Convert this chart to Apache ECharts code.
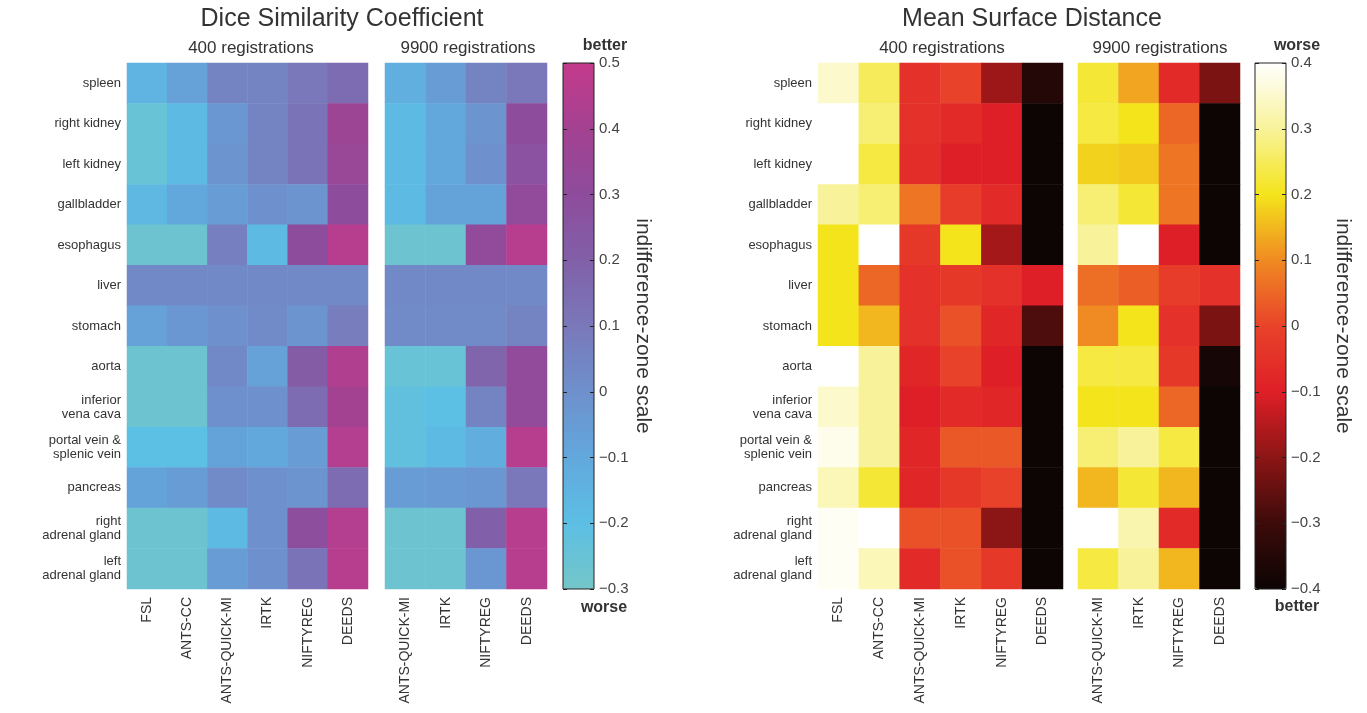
<!DOCTYPE html>
<html><head><meta charset="utf-8">
<script src="https://cdn.jsdelivr.net/npm/echarts@6/dist/echarts.min.js"></script>
<style>html,body{margin:0;padding:0;background:#fff}#c{width:1367px;height:713px}</style>
</head><body><div id="c"></div>
<script>
const rows = ['spleen','right kidney','left kidney','gallbladder','esophagus','liver','stomach','aorta','inferior\nvena cava','portal vein &\nsplenic vein','pancreas','right\nadrenal gland','left\nadrenal gland'];
const methods400 = ['FSL','ANTS-CC','ANTS-QUICK-MI','IRTK','NIFTYREG','DEEDS'];
const methods9900 = ['ANTS-QUICK-MI','IRTK','NIFTYREG','DEEDS'];

// Dice similarity coefficient, indifference-zone scale, rows x methods
const dsc400 = [
  [-0.15,-0.07, 0.05, 0.05, 0.10, 0.15],
  [-0.25,-0.18,-0.03, 0.05, 0.12, 0.37],
  [-0.25,-0.18,-0.02, 0.05, 0.12, 0.35],
  [-0.17,-0.10,-0.05, 0.00,-0.02, 0.30],
  [-0.27,-0.27, 0.07,-0.18, 0.30, 0.46],
  [ 0.03, 0.03, 0.03, 0.03, 0.03, 0.03],
  [-0.07,-0.03, 0.00, 0.02,-0.02, 0.08],
  [-0.27,-0.27, 0.03,-0.07, 0.22, 0.44],
  [-0.27,-0.27, 0.00, 0.00, 0.15, 0.40],
  [-0.20,-0.20,-0.08,-0.10,-0.05, 0.45],
  [-0.08,-0.05, 0.02, 0.00,-0.02, 0.15],
  [-0.27,-0.27,-0.18, 0.00, 0.29, 0.45],
  [-0.27,-0.27,-0.05, 0.00, 0.12, 0.46]
];
const dsc9900 = [
  [-0.13,-0.05, 0.05, 0.10],
  [-0.18,-0.10,-0.02, 0.30],
  [-0.18,-0.10, 0.00, 0.27],
  [-0.18,-0.08,-0.08, 0.32],
  [-0.27,-0.27, 0.32, 0.46],
  [ 0.03, 0.03, 0.03, 0.03],
  [ 0.02, 0.02, 0.02, 0.05],
  [-0.25,-0.25, 0.18, 0.32],
  [-0.22,-0.20, 0.05, 0.32],
  [-0.22,-0.18,-0.12, 0.46],
  [-0.05,-0.04,-0.03, 0.10],
  [-0.27,-0.27, 0.20, 0.46],
  [-0.27,-0.27,-0.03, 0.46]
];
// Mean surface distance, indifference-zone scale
const msd400 = [
  [ 0.35, 0.25,-0.05, 0.00,-0.18,-0.35],
  [ 0.40, 0.27,-0.05,-0.07,-0.10,-0.40],
  [ 0.40, 0.23,-0.06,-0.10,-0.10,-0.40],
  [ 0.30, 0.27, 0.07,-0.02,-0.07,-0.40],
  [ 0.20, 0.40,-0.03, 0.20,-0.17,-0.40],
  [ 0.20, 0.05,-0.05,-0.03,-0.05,-0.10],
  [ 0.20, 0.15,-0.05, 0.02,-0.08,-0.28],
  [ 0.40, 0.30,-0.08, 0.00,-0.10,-0.40],
  [ 0.35, 0.30,-0.10,-0.07,-0.08,-0.40],
  [ 0.38, 0.30,-0.08, 0.03, 0.03,-0.40],
  [ 0.33, 0.22,-0.08,-0.03, 0.00,-0.40],
  [ 0.39, 0.40, 0.02, 0.02,-0.20,-0.40],
  [ 0.39, 0.33,-0.07, 0.02,-0.03,-0.40]
];
const msd9900 = [
  [ 0.22, 0.13,-0.07,-0.22],
  [ 0.23, 0.20, 0.05,-0.40],
  [ 0.18, 0.17, 0.07,-0.40],
  [ 0.27, 0.22, 0.07,-0.40],
  [ 0.30, 0.40,-0.10,-0.40],
  [ 0.06, 0.04,-0.02,-0.05],
  [ 0.10, 0.20,-0.05,-0.22],
  [ 0.23, 0.23,-0.03,-0.38],
  [ 0.20, 0.20, 0.05,-0.40],
  [ 0.27, 0.30, 0.23,-0.40],
  [ 0.15, 0.22, 0.15,-0.40],
  [ 0.40, 0.32,-0.07,-0.40],
  [ 0.23, 0.30, 0.15,-0.40]
];
const dscColors = ['#74c6c8','#5cbfe4','#62a8dd','#6e90cc','#7a78ba','#8160a9','#8e4c9c','#a44292','#c43a8b'];
const hotColors = ['#0c0504','#3c0b0a','#8c1515','#df1f27','#e8432a','#f08a22','#f4e41c','#f8f39a','#ffffff'];

function cells(m){const out=[];m.forEach((r,ri)=>r.forEach((v,ci)=>out.push([ci,ri,v])));return out;}

const FONT = 'Liberation Sans, Arial, Helvetica, sans-serif';
const TXT = '#333';
const GT = 63, GH = 526;

const grids = [
  {left:127, top:GT, width:241, height:GH},
  {left:385, top:GT, width:162, height:GH},
  {left:818, top:GT, width:245, height:GH},
  {left:1078, top:GT, width:162, height:GH},
  {left:563, top:GT, width:31, height:GH, show:true, borderColor:'#222', borderWidth:1, backgroundColor:'transparent', z:10},
  {left:1255, top:GT, width:31, height:GH, show:true, borderColor:'#222', borderWidth:1, backgroundColor:'transparent', z:10}
];
function catX(i, data){return {type:'category', gridIndex:i, data, axisLine:{show:false}, axisTick:{show:false},
  axisLabel:{rotate:90, margin:8, fontSize:14, color:TXT, fontFamily:FONT, interval:0}};}
function catY(i, show){return {type:'category', gridIndex:i, data:rows, inverse:true, axisLine:{show:false}, axisTick:{show:false},
  axisLabel:{show:show, margin:6, fontSize:13, lineHeight:14, color:TXT, fontFamily:FONT, interval:0}};}
function barY(i, min, max, gap){return {type:'value', gridIndex:i, min, max, interval:0.1, position:'right', z:12,
  axisLine:{show:false}, axisTick:{show:false},
  splitLine:{show:true, lineStyle:{color:'#222', width:1, type:[4,23]}},
  axisLabel:{margin:5, fontSize:15, color:'#444', fontFamily:FONT,
    formatter:v=>{const r=Math.round(v*10)/10;return (r===0?'0':String(r)).replace('-','\u2212');}},
  name:'indifference-zone scale', nameLocation:'middle', nameRotate:-90, nameGap:gap,
  nameTextStyle:{fontSize:21, color:TXT, fontFamily:FONT}};}

const xAxis = [catX(0,methods400),catX(1,methods9900),catX(2,methods400),catX(3,methods9900),
  {type:'value',gridIndex:4,show:false,min:0,max:1},{type:'value',gridIndex:5,show:false,min:0,max:1}];
const yAxis = [catY(0,true),catY(1,false),catY(2,true),catY(3,false),
  barY(4,-0.3,0.5,33), barY(5,-0.4,0.4,46)];

function hm(i, m){return {type:'heatmap', xAxisIndex:i, yAxisIndex:i, data:cells(m), emphasis:{disabled:true}, itemStyle:{borderWidth:0}};}

function txt(x,y,text,size,bold,align){return {type:'text', x, y, style:{text, fontSize:size, fontWeight:bold?'bold':'normal',
  fontFamily:FONT, fill:TXT, textAlign:align||'center', textVerticalAlign:'middle'}};}

const option = {
  backgroundColor:'#fff',
  animation:false,
  grid: grids,
  xAxis, yAxis,
  visualMap:[
    {type:'continuous', seriesIndex:[0,1], min:-0.3, max:0.5, calculable:false, orient:'vertical', left:563, top:GT, z:1,
     itemWidth:31, itemHeight:GH, padding:0, inRange:{color:dscColors}, hoverLink:false},
    {type:'continuous', seriesIndex:[2,3], min:-0.4, max:0.4, calculable:false, orient:'vertical', left:1255, top:GT, z:1,
     itemWidth:31, itemHeight:GH, padding:0, inRange:{color:hotColors}, hoverLink:false}
  ],
  series:[hm(0,dsc400),hm(1,dsc9900),hm(2,msd400),hm(3,msd9900)],
  graphic:[
    txt(342,19,'Dice Similarity Coefficient',25,false),
    txt(1032,19,'Mean Surface Distance',25,false),
    txt(251,48,'400 registrations',17,false),
    txt(468,48,'9900 registrations',17,false),
    txt(942,48,'400 registrations',17,false),
    txt(1160,48,'9900 registrations',17,false),
    txt(605,46,'better',16,true),
    txt(604,608,'worse',16,true),
    txt(1297,46,'worse',16,true),
    txt(1297,607,'better',16,true)
  ]
};
const chart = echarts.init(document.getElementById('c'));
chart.setOption(option);
</script></body></html>
